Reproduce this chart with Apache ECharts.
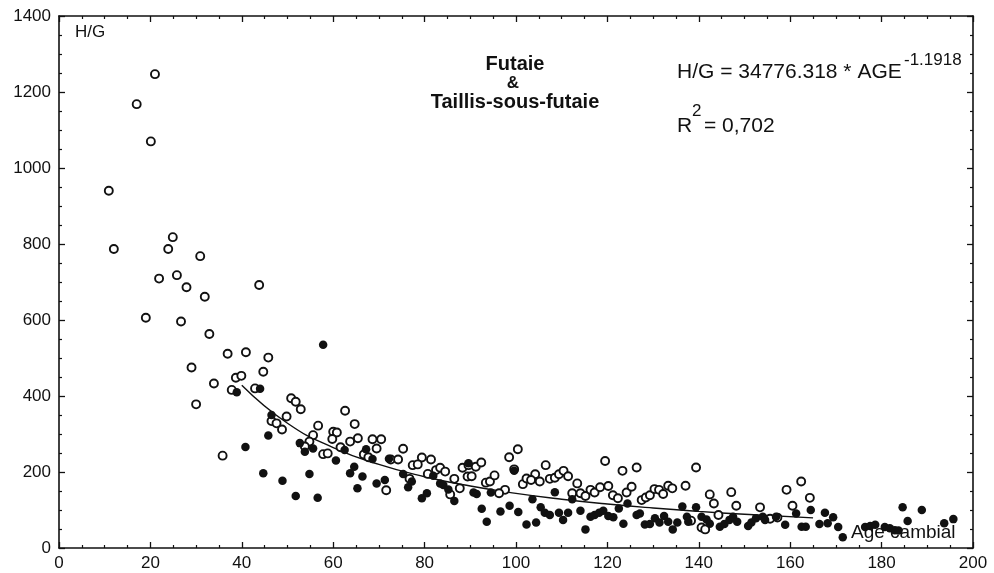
<!DOCTYPE html>
<html>
<head>
<meta charset="utf-8">
<script src="https://cdn.jsdelivr.net/npm/echarts@6/dist/echarts.min.js"></script>
<style>
html,body{margin:0;padding:0;background:#fff;}
#chart{width:994px;height:573px;}
</style>
</head>
<body>
<div id="chart"></div>
<script>
// Open circles (age, H/G)
var openPts = [
[21.0,1247],[17.0,1168],[20.1,1070],[10.9,940],[12.0,787],[24.9,818],[23.9,787],[30.9,768],[21.9,709],[25.8,718],[27.9,686],[43.8,692],[31.9,661],[19.0,606],[26.7,596],[32.9,563],
[36.9,511],[40.9,515],[45.8,501],[29.0,475],[33.9,433],[30.0,378],[38.7,448],[39.9,453],[44.7,464],[37.8,416],[42.9,420],[50.8,394],[51.8,385],[52.9,365],[62.6,361],[49.8,346],[46.5,334],[47.6,328],[48.8,312],[56.7,322],[64.7,326],[55.6,297],[60.0,306],[60.8,304],[59.8,287],[65.4,289],[63.7,280],[54.8,280],[53.8,267],[61.6,265],[57.8,247],[58.8,249],[35.8,243],
[68.6,286],[70.5,286],[69.5,262],[66.7,246],[67.7,239],[75.3,261],[72.6,233],[74.2,233],[79.4,238],[81.4,233],[77.4,218],[78.5,220],[76.7,182],[71.6,152],[80.7,195],[82.5,205],[83.4,211],[84.5,201],[86.5,182],[87.7,157],[85.6,141],[88.3,211],[89.6,218],[91.2,214],[92.4,225],[89.4,188],[90.3,189],[93.4,172],[94.3,175],[95.3,191],[97.6,153],[98.5,239],[100.4,260],[99.6,207],[101.5,168],[102.3,183],[96.3,144],
[106.5,218],[104.2,194],[103.3,179],[105.2,175],[107.4,182],[108.5,185],[109.4,194],[110.4,203],[111.4,189],[113.4,170],[112.3,144],[114.1,144],[115.2,137],[116.3,153],[117.2,146],[118.4,160],[119.5,229],[120.2,163],[121.2,139],[122.3,131],[123.3,203],[124.2,146],[125.3,161],[126.4,212],[127.5,126],[128.4,133],[129.3,139],[130.3,155],[131.3,153],[132.2,142],[133.3,164],[134.2,157],[137.1,164],
[139.4,212],[142.4,141],[143.3,117],[147.1,147],[148.2,111],[159.2,153],[162.4,175],[164.3,132],[160.5,111],[153.4,107],[138.3,72],[140.6,54],[141.4,49],[144.3,87],[155.6,77],[157.2,80]
];
// Filled circles (age, H/G)
var filledPts = [
[57.8,535],[38.9,410],[44.0,419],[46.5,350],[45.8,296],[40.8,266],[52.7,276],[53.8,253],[55.6,262],[62.5,258],[60.6,230],[64.6,214],[63.7,197],[65.3,157],[44.7,197],[48.9,177],[54.8,195],[51.8,137],[56.6,132],
[67.2,260],[68.6,234],[72.2,235],[66.4,188],[69.5,170],[71.3,179],[76.4,160],[77.2,175],[75.3,195],[79.4,131],[80.5,144],[81.9,190],[83.4,170],[84.1,166],[85.2,154],[86.5,124],[89.6,223],[90.7,146],[91.4,142],[92.5,103],[93.6,69],[94.5,146],[96.6,96],[98.6,111],[100.5,95],[99.6,203],[102.3,62],
[108.5,147],[103.6,128],[104.4,67],[105.4,107],[106.3,93],[107.4,87],[109.4,93],[110.3,74],[111.4,93],[112.3,128],[114.1,98],[115.2,49],[116.3,82],[117.2,87],[118.2,93],[119.1,98],[120.2,84],[121.3,81],[122.5,104],[123.5,64],[124.4,117],[126.4,87],[127.1,91],[128.2,62],[129.3,63],[130.4,78],[131.4,67],[132.4,84],[133.3,69],[134.3,49],[135.3,67],[136.4,109],[137.4,82],[137.7,69],
[139.4,107],[140.6,82],[141.7,75],[142.4,64],[144.6,56],[145.6,63],[146.7,74],[147.5,82],[148.4,69],[150.8,58],[151.5,67],[152.5,78],[154.0,82],[154.5,74],[156.9,82],[158.9,61],[161.3,91],[162.5,56],[163.4,56],[164.5,100],[166.4,63],[167.6,93],[168.2,65],[169.4,81],[170.5,55],[171.5,28],
[176.4,55],[177.5,58],[178.6,61],[180.7,55],[181.8,52],[182.9,47],[183.7,46],[184.6,107],[185.7,71],[188.8,100],[193.7,65],[195.7,76]
];
// Fitted curve H/G = 34776.318 * AGE^-1.1918, values read at these ages
var fitAges = [40, 50, 60, 70, 80, 90, 100, 110, 120, 130, 140, 150, 165];
var fitValues = [428.5, 328.4, 264.3, 219.9, 187.6, 163.0, 143.8, 128.4, 115.7, 105.2, 96.3, 88.7, 79.2];

var xTicks = [0, 20, 40, 60, 80, 100, 120, 140, 160, 180, 200];
var yTicks = [0, 200, 400, 600, 800, 1000, 1200, 1400];

var FONT = '"Liberation Sans", Arial, Helvetica, sans-serif';
var fitLine = fitAges.map(function (a, i) { return [a, fitValues[i]]; });

var chart = echarts.init(document.getElementById('chart'), null, {renderer: 'canvas'});

function axisBase(extra) {
  var base = {
    type: 'value',
    axisLine: {show: true, onZero: false, lineStyle: {color: '#111', width: 1.6}},
    axisTick: {show: true, inside: true, length: 6, lineStyle: {color: '#111', width: 1.3}},
    minorTick: {show: true, splitNumber: 4, length: 3, lineStyle: {color: '#111', width: 1.2}},
    splitLine: {show: false},
    minorSplitLine: {show: false}
  };
  for (var k in extra) base[k] = extra[k];
  return base;
}
function plain(v) { return String(v); }

chart.setOption({
  animation: false,
  backgroundColor: '#ffffff',
  grid: {left: 59, right: 21, top: 16, bottom: 25, containLabel: false},
  xAxis: [
    axisBase({min: xTicks[0], max: xTicks[xTicks.length - 1], interval: 20, position: 'bottom',
      axisLabel: {show: true, margin: 7, fontSize: 17, color: '#111', fontFamily: FONT, formatter: plain}}),
    axisBase({min: xTicks[0], max: xTicks[xTicks.length - 1], interval: 20, position: 'top',
      axisLabel: {show: false}})
  ],
  yAxis: [
    axisBase({min: yTicks[0], max: yTicks[yTicks.length - 1], interval: 200, position: 'left',
      axisLabel: {show: true, margin: 8, fontSize: 17, color: '#111', fontFamily: FONT, formatter: plain}}),
    axisBase({min: yTicks[0], max: yTicks[yTicks.length - 1], interval: 200, position: 'right',
      axisLabel: {show: false}})
  ],
  series: [
    {
      name: 'fit', type: 'line', xAxisIndex: 0, yAxisIndex: 0, data: fitLine, smooth: true,
      showSymbol: false, symbol: 'none', lineStyle: {color: '#111', width: 1.4}, z: 3
    },
    {
      name: 'open', type: 'scatter', xAxisIndex: 0, yAxisIndex: 0, data: openPts,
      symbol: 'circle', symbolSize: 8,
      itemStyle: {color: '#ffffff', borderColor: '#111', borderWidth: 1.9, opacity: 1}, z: 4
    },
    {
      name: 'filled', type: 'scatter', xAxisIndex: 0, yAxisIndex: 0, data: filledPts,
      symbol: 'circle', symbolSize: 8.5,
      itemStyle: {color: '#111', borderColor: '#111', borderWidth: 0, opacity: 1}, z: 5
    }
  ],
  graphic: [
    {type: 'text', x: 75, y: 32, style: {text: 'H/G', font: '17px ' + FONT, fill: '#111', verticalAlign: 'middle', textVerticalAlign: 'middle'}},
    {type: 'text', x: 851, y: 533, z: 10, style: {text: 'Age cambial', font: '19px ' + FONT, fill: '#111', verticalAlign: 'middle', textVerticalAlign: 'middle'}},
    {type: 'text', x: 515, y: 64, style: {text: 'Futaie', font: 'bold 20px ' + FONT, fill: '#111', align: 'center', textAlign: 'center', verticalAlign: 'middle', textVerticalAlign: 'middle'}},
    {type: 'text', x: 513, y: 83, style: {text: '&', font: 'bold 17px ' + FONT, fill: '#111', align: 'center', textAlign: 'center', verticalAlign: 'middle', textVerticalAlign: 'middle'}},
    {type: 'text', x: 515, y: 102, style: {text: 'Taillis-sous-futaie', font: 'bold 20px ' + FONT, fill: '#111', align: 'center', textAlign: 'center', verticalAlign: 'middle', textVerticalAlign: 'middle'}},
    {type: 'text', x: 677, y: 72, style: {text: 'H/G = 34776.318 * AGE', font: '21px ' + FONT, fill: '#111', verticalAlign: 'middle', textVerticalAlign: 'middle'}},
    {type: 'text', x: 904, y: 60, style: {text: '-1.1918', font: '17px ' + FONT, fill: '#111', verticalAlign: 'middle', textVerticalAlign: 'middle'}},
    {type: 'text', x: 677, y: 126, style: {text: 'R', font: '21px ' + FONT, fill: '#111', verticalAlign: 'middle', textVerticalAlign: 'middle'}},
    {type: 'text', x: 692, y: 111, style: {text: '2', font: '17px ' + FONT, fill: '#111', verticalAlign: 'middle', textVerticalAlign: 'middle'}},
    {type: 'text', x: 704, y: 126, style: {text: '= 0,702', font: '21px ' + FONT, fill: '#111', verticalAlign: 'middle', textVerticalAlign: 'middle'}}
  ]
});
</script>
</body>
</html>
